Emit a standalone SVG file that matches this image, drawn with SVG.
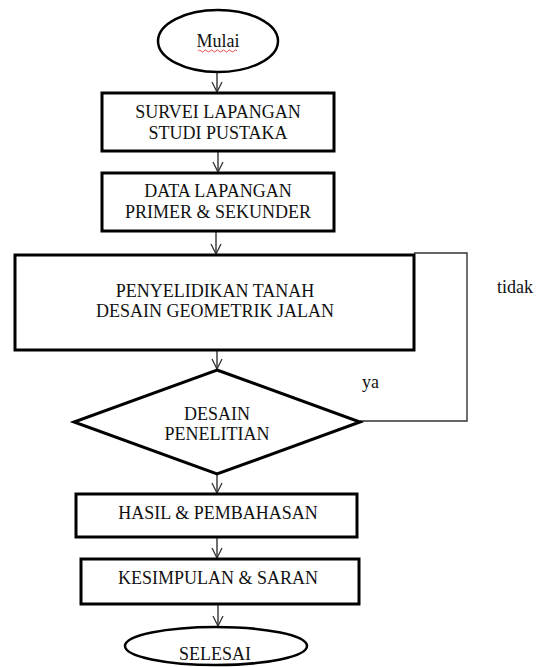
<svg xmlns="http://www.w3.org/2000/svg" width="546" height="667" viewBox="0 0 546 667">
<defs>
<marker id="arr" viewBox="0 0 12 12" refX="11" refY="6" markerWidth="12" markerHeight="12" markerUnits="userSpaceOnUse" orient="auto">
<path d="M1,1 L11,6 L1,11" fill="none" stroke="#333" stroke-width="1.3"/>
</marker>
<style>
.shape{fill:#fff;stroke:#000;stroke-width:3}
.oval{fill:#fff;stroke:#000;stroke-width:2.5}
text{font-family:'Liberation Serif','DejaVu Serif',serif;font-size:18px;fill:#111}
.t{text-anchor:middle}
.c{fill:none;stroke:#333;stroke-width:1.4}
</style>
</defs>
<rect width="546" height="667" fill="#fff"/>
<g id="connectors">
<line class="c" x1="217" y1="72" x2="217" y2="92" marker-end="url(#arr)"/>
<line class="c" x1="218" y1="152" x2="218" y2="172" marker-end="url(#arr)"/>
<line class="c" x1="216" y1="232" x2="216" y2="254" marker-end="url(#arr)"/>
<line class="c" x1="217" y1="351" x2="217" y2="369" marker-end="url(#arr)"/>
<line class="c" x1="217" y1="475" x2="217" y2="493" marker-end="url(#arr)"/>
<line class="c" x1="217" y1="538" x2="217" y2="558" marker-end="url(#arr)"/>
<line class="c" x1="218" y1="605" x2="218" y2="626" marker-end="url(#arr)"/>
<polyline class="c" points="414,253 467,253 467,421 360,421" stroke-width="1.6"/>
<text font-family="Liberation Serif, serif" x="497" y="293">tidak</text>
<text font-family="Liberation Serif, serif" x="362" y="388">ya</text>
</g>
<g id="mulai">
<ellipse class="oval" cx="218" cy="41" rx="60" ry="31"/>
<text class="t" font-family="Liberation Serif, serif" x="218" y="47">Mulai</text>
<path d="M198,51 q1.5,-2 3,0 t3,0 t3,0 t3,0 t3,0 t3,0 t3,0 t3,0 t3,0 t3,0 t3,0 t3,0 t3,0" fill="none" stroke="#e02020" stroke-width="0.8"/>
</g>
<g id="survei">
<rect class="shape" x="102" y="93" width="232" height="58"/>
<text class="t" x="218" y="118">SURVEI LAPANGAN</text>
<text class="t" x="218" y="139">STUDI PUSTAKA</text>
</g>
<g id="data">
<rect class="shape" x="102" y="173" width="232" height="58"/>
<text class="t" x="218" y="197">DATA LAPANGAN</text>
<text class="t" x="218" y="218">PRIMER &amp; SEKUNDER</text>
</g>
<g id="penyelidikan">
<rect class="shape" x="15" y="255" width="399" height="95"/>
<text class="t" x="215" y="297">PENYELIDIKAN TANAH</text>
<text class="t" x="215" y="317">DESAIN GEOMETRIK JALAN</text>
</g>
<g id="desain">
<polygon class="shape" points="217,370 360,422 217,474 74,422"/>
<text class="t" x="217" y="420">DESAIN</text>
<text class="t" x="217" y="440">PENELITIAN</text>
</g>
<g id="hasil">
<rect class="shape" x="76" y="494" width="281" height="43"/>
<text class="t" x="218" y="519">HASIL &amp; PEMBAHASAN</text>
</g>
<g id="kesimpulan">
<rect class="shape" x="81" y="559" width="278" height="45"/>
<text class="t" x="218" y="584">KESIMPULAN &amp; SARAN</text>
</g>
<g id="selesai">
<ellipse class="oval" cx="216" cy="646" rx="91" ry="19"/>
<text class="t" x="215" y="660">SELESAI</text>
</g>
</svg>
